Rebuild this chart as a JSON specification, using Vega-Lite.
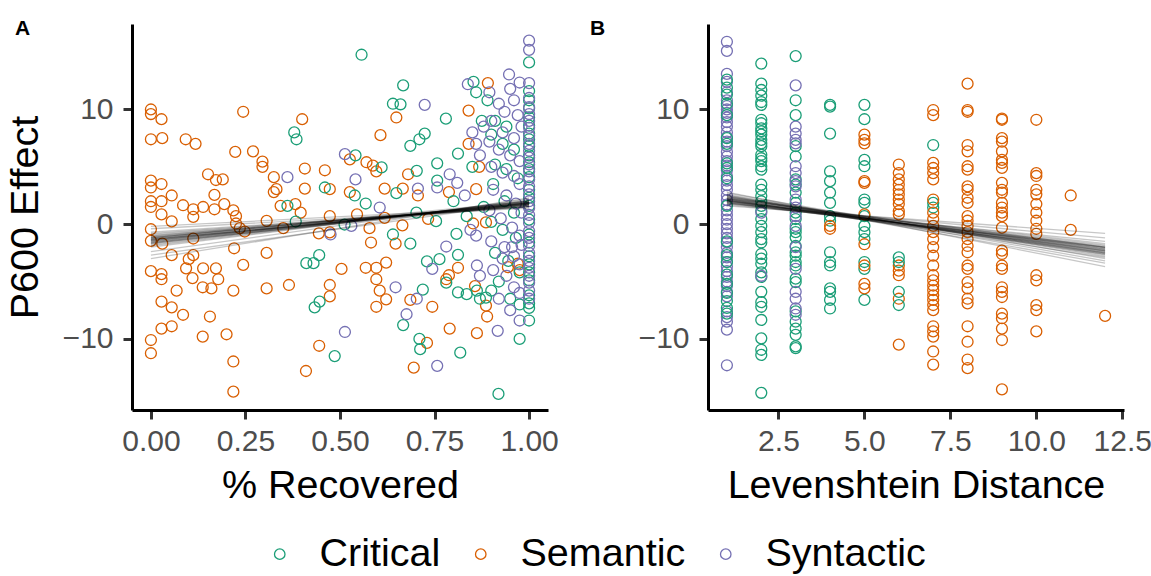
{
  "$schema": "https://vega.github.io/schema/vega-lite/v6.json",
  "padding": {"left": 5, "top": 18, "right": 0, "bottom": 0},
  "background": "white",
  "datasets": {
    "a": [
      {"x":0,"y":10.0,"g":"S"},{"x":0,"y":9.6,"g":"S"},{"x":0.028,"y":9.15,"g":"S"},{"x":0.244,"y":9.8,"g":"S"},{"x":0.40,"y":9.15,"g":"S"},{"x":0,"y":7.4,"g":"S"},{"x":0.03,"y":7.5,"g":"S"},{"x":0.092,"y":7.4,"g":"S"},{"x":0.118,"y":7.0,"g":"S"},{"x":0.223,"y":6.3,"g":"S"},{"x":0.27,"y":6.35,"g":"S"},{"x":0.295,"y":5.45,"g":"S"},{"x":0.295,"y":5.0,"g":"S"},{"x":0.325,"y":4.1,"g":"S"},{"x":0.407,"y":4.85,"g":"S"},{"x":0.46,"y":4.7,"g":"S"},{"x":0,"y":3.8,"g":"S"},{"x":0,"y":3.2,"g":"S"},{"x":0.028,"y":3.5,"g":"S"},{"x":0.151,"y":4.35,"g":"S"},{"x":0.172,"y":3.85,"g":"S"},{"x":0.19,"y":3.9,"g":"S"},{"x":0.055,"y":2.5,"g":"S"},{"x":0.168,"y":2.55,"g":"S"},{"x":0.332,"y":3.05,"g":"S"},{"x":0.325,"y":2.8,"g":"S"},{"x":0.407,"y":3.1,"g":"S"},{"x":0.473,"y":3.05,"g":"S"},{"x":0,"y":2.0,"g":"S"},{"x":0,"y":1.5,"g":"S"},{"x":0.028,"y":2.0,"g":"S"},{"x":0.085,"y":1.65,"g":"S"},{"x":0.112,"y":1.3,"g":"S"},{"x":0.138,"y":1.5,"g":"S"},{"x":0.168,"y":1.3,"g":"S"},{"x":0.194,"y":1.75,"g":"S"},{"x":0.218,"y":1.2,"g":"S"},{"x":0.343,"y":1.6,"g":"S"},{"x":0.382,"y":1.75,"g":"S"},{"x":0.396,"y":1.0,"g":"S"},{"x":0.028,"y":0.85,"g":"S"},{"x":0.112,"y":0.64,"g":"S"},{"x":0.225,"y":0.7,"g":"S"},{"x":0.055,"y":0.24,"g":"S"},{"x":0.306,"y":0.29,"g":"S"},{"x":0.473,"y":0.7,"g":"S"},{"x":0.225,"y":0.06,"g":"S"},{"x":0.235,"y":-0.35,"g":"S"},{"x":0.248,"y":-0.64,"g":"S"},{"x":0.35,"y":-0.35,"g":"S"},{"x":0,"y":-0.44,"g":"S"},{"x":0,"y":-1.45,"g":"S"},{"x":0.03,"y":-1.7,"g":"S"},{"x":0.112,"y":-1.25,"g":"S"},{"x":0.22,"y":-2.1,"g":"S"},{"x":0.055,"y":-2.7,"g":"S"},{"x":0.112,"y":-2.7,"g":"S"},{"x":0.1,"y":-3.05,"g":"S"},{"x":0.306,"y":-2.5,"g":"S"},{"x":0.244,"y":-3.55,"g":"S"},{"x":0.444,"y":-0.8,"g":"S"},{"x":0.473,"y":-0.72,"g":"S"},{"x":0,"y":-4.1,"g":"S"},{"x":0.028,"y":-4.35,"g":"S"},{"x":0.028,"y":-4.8,"g":"S"},{"x":0.093,"y":-3.85,"g":"S"},{"x":0.11,"y":-4.7,"g":"S"},{"x":0.138,"y":-3.85,"g":"S"},{"x":0.172,"y":-3.85,"g":"S"},{"x":0.178,"y":-4.8,"g":"S"},{"x":0.137,"y":-5.5,"g":"S"},{"x":0.16,"y":-5.6,"g":"S"},{"x":0.068,"y":-5.8,"g":"S"},{"x":0.218,"y":-5.8,"g":"S"},{"x":0.306,"y":-5.6,"g":"S"},{"x":0.365,"y":-5.3,"g":"S"},{"x":0.473,"y":-5.3,"g":"S"},{"x":0.028,"y":-6.75,"g":"S"},{"x":0.055,"y":-7.25,"g":"S"},{"x":0.085,"y":-7.9,"g":"S"},{"x":0.156,"y":-8.05,"g":"S"},{"x":0.473,"y":-6.3,"g":"S"},{"x":0.028,"y":-9.1,"g":"S"},{"x":0.055,"y":-8.9,"g":"S"},{"x":0,"y":-10.1,"g":"S"},{"x":0,"y":-11.25,"g":"S"},{"x":0.137,"y":-9.8,"g":"S"},{"x":0.2,"y":-9.6,"g":"S"},{"x":0.218,"y":-11.97,"g":"S"},{"x":0.218,"y":-14.6,"g":"S"},{"x":0.445,"y":-10.6,"g":"S"},{"x":0.41,"y":-12.8,"g":"S"},
      {"x":0.649,"y":9.3,"g":"S"},{"x":0.607,"y":7.76,"g":"S"},{"x":0.891,"y":12.3,"g":"S"},{"x":0.84,"y":9.9,"g":"S"},{"x":0.84,"y":7.0,"g":"S"},{"x":0.526,"y":5.65,"g":"S"},{"x":0.57,"y":5.4,"g":"S"},{"x":0.587,"y":5.1,"g":"S"},{"x":0.596,"y":4.6,"g":"S"},{"x":0.68,"y":4.35,"g":"S"},{"x":0.868,"y":5.0,"g":"S"},{"x":0.526,"y":2.8,"g":"S"},{"x":0.618,"y":3.1,"g":"S"},{"x":0.666,"y":3.1,"g":"S"},{"x":0.706,"y":2.5,"g":"S"},{"x":0.788,"y":2.8,"g":"S"},{"x":0.86,"y":3.05,"g":"S"},{"x":0.545,"y":0.85,"g":"S"},{"x":0.618,"y":0.55,"g":"S"},{"x":0.665,"y":-0.1,"g":"S"},{"x":0.578,"y":-0.35,"g":"S"},{"x":0.582,"y":-1.6,"g":"S"},{"x":0.647,"y":-1.7,"g":"S"},{"x":0.733,"y":0.46,"g":"S"},{"x":0.852,"y":0.06,"g":"S"},{"x":0.886,"y":0.15,"g":"S"},{"x":0.504,"y":-3.9,"g":"S"},{"x":0.568,"y":-3.8,"g":"S"},{"x":0.596,"y":-3.8,"g":"S"},{"x":0.622,"y":-3.35,"g":"S"},{"x":0.596,"y":-4.8,"g":"S"},{"x":0.605,"y":-5.8,"g":"S"},{"x":0.622,"y":-6.55,"g":"S"},{"x":0.596,"y":-7.2,"g":"S"},{"x":0.686,"y":-6.6,"g":"S"},{"x":0.744,"y":-7.2,"g":"S"},{"x":0.812,"y":-3.8,"g":"S"},{"x":0.788,"y":-4.45,"g":"S"},{"x":0.781,"y":-4.8,"g":"S"},{"x":0.857,"y":-5.4,"g":"S"},{"x":0.886,"y":-7.1,"g":"S"},{"x":0.889,"y":-8.05,"g":"S"},{"x":0.79,"y":-9.1,"g":"S"},{"x":0.862,"y":-9.5,"g":"S"},{"x":0.73,"y":-10.35,"g":"S"},{"x":0.695,"y":-12.5,"g":"S"},{"x":0.944,"y":-3.75,"g":"S"},{"x":0.97,"y":-3.45,"g":"S"},{"x":0.975,"y":-4.0,"g":"S"},
      {"x":0.379,"y":8.0,"g":"C"},{"x":0.385,"y":7.4,"g":"C"},{"x":0.46,"y":3.2,"g":"C"},{"x":0.361,"y":1.6,"g":"C"},{"x":0.383,"y":0.23,"g":"C"},{"x":0.411,"y":-3.4,"g":"C"},{"x":0.43,"y":-3.4,"g":"C"},{"x":0.445,"y":-2.7,"g":"C"},{"x":0.433,"y":-7.25,"g":"C"},{"x":0.446,"y":-6.75,"g":"C"},{"x":0.486,"y":-11.5,"g":"C"},
      {"x":0.557,"y":14.77,"g":"C"},{"x":0.667,"y":12.1,"g":"C"},{"x":0.64,"y":10.5,"g":"C"},{"x":0.66,"y":10.45,"g":"C"},{"x":0.78,"y":9.2,"g":"C"},{"x":0.686,"y":6.83,"g":"C"},{"x":0.71,"y":7.4,"g":"C"},{"x":0.724,"y":7.9,"g":"C"},{"x":0.853,"y":12.4,"g":"C"},{"x":0.812,"y":6.15,"g":"C"},{"x":0.541,"y":6.0,"g":"C"},{"x":0.61,"y":4.95,"g":"C"},{"x":0.703,"y":4.65,"g":"C"},{"x":0.757,"y":5.3,"g":"C"},{"x":0.539,"y":2.5,"g":"C"},{"x":0.649,"y":2.7,"g":"C"},{"x":0.757,"y":3.8,"g":"C"},{"x":0.8,"y":2.0,"g":"C"},{"x":0.568,"y":1.8,"g":"C"},{"x":0.512,"y":-0.03,"g":"C"},{"x":0.64,"y":-0.9,"g":"C"},{"x":0.686,"y":-1.7,"g":"C"},{"x":0.702,"y":1.0,"g":"C"},{"x":0.754,"y":0.26,"g":"C"},{"x":0.808,"y":-0.85,"g":"C"},{"x":0.835,"y":0.7,"g":"C"},{"x":0.719,"y":-5.7,"g":"C"},{"x":0.667,"y":-8.8,"g":"C"},{"x":0.73,"y":-3.25,"g":"C"},{"x":0.763,"y":-3.05,"g":"C"},{"x":0.812,"y":-2.67,"g":"C"},{"x":0.781,"y":-5.1,"g":"C"},{"x":0.812,"y":-5.95,"g":"C"},{"x":0.835,"y":-6.1,"g":"C"},{"x":0.862,"y":-5.8,"g":"C"},{"x":0.886,"y":-6.4,"g":"C"},{"x":0.71,"y":-10.0,"g":"C"},{"x":0.712,"y":-10.9,"g":"C"},{"x":0.818,"y":-11.2,"g":"C"},{"x":0.919,"y":-14.8,"g":"C"},{"x":0.975,"y":-10.0,"g":"C"},{"x":1.0,"y":-8.4,"g":"C"},
      {"x":0.89,"y":10.8,"g":"C"},{"x":0.91,"y":9.0,"g":"C"},{"x":0.94,"y":8.5,"g":"C"},{"x":0.9,"y":7.8,"g":"C"},{"x":0.93,"y":7.0,"g":"C"},{"x":0.96,"y":6.5,"g":"C"},{"x":0.91,"y":5.2,"g":"C"},{"x":0.94,"y":4.8,"g":"C"},{"x":0.97,"y":4.0,"g":"C"},{"x":0.905,"y":3.5,"g":"C"},{"x":0.935,"y":2.0,"g":"C"},{"x":0.96,"y":1.0,"g":"C"},{"x":0.9,"y":0.2,"g":"C"},{"x":0.93,"y":-0.5,"g":"C"},{"x":0.965,"y":-1.2,"g":"C"},{"x":0.91,"y":-2.5,"g":"C"},{"x":0.945,"y":-3.2,"g":"C"},{"x":0.975,"y":-4.2,"g":"C"},{"x":0.92,"y":-5.0,"g":"C"},{"x":0.95,"y":-6.5,"g":"C"},{"x":0.975,"y":-7.0,"g":"C"},{"x":0.9,"y":-5.8,"g":"C"},{"x":0.87,"y":-6.5,"g":"C"},{"x":0.88,"y":1.5,"g":"C"},{"x":0.86,"y":11.5,"g":"C"},{"x":0.875,"y":9.0,"g":"C"},{"x":0.85,"y":5.0,"g":"C"},
      {"x":1,"y":14.1,"g":"C"},{"x":1,"y":11.6,"g":"C"},{"x":1,"y":10.8,"g":"C"},{"x":1,"y":10.1,"g":"C"},{"x":1,"y":9.3,"g":"C"},{"x":1,"y":8.6,"g":"C"},{"x":1,"y":7.9,"g":"C"},{"x":1,"y":7.4,"g":"C"},{"x":1,"y":6.8,"g":"C"},{"x":1,"y":6.0,"g":"C"},{"x":1,"y":5.4,"g":"C"},{"x":1,"y":4.8,"g":"C"},{"x":1,"y":4.1,"g":"C"},{"x":1,"y":3.0,"g":"C"},{"x":1,"y":2.3,"g":"C"},{"x":1,"y":1.6,"g":"C"},{"x":1,"y":0.4,"g":"C"},{"x":1,"y":-0.9,"g":"C"},{"x":1,"y":-1.6,"g":"C"},{"x":1,"y":-2.8,"g":"C"},{"x":1,"y":-3.5,"g":"C"},{"x":1,"y":-4.2,"g":"C"},{"x":1,"y":-4.9,"g":"C"},{"x":1,"y":-6.2,"g":"C"},{"x":1,"y":-6.9,"g":"C"},{"x":1,"y":-7.3,"g":"C"},
      {"x":0.361,"y":4.1,"g":"Y"},{"x":0.513,"y":6.1,"g":"Y"},{"x":0.513,"y":-9.4,"g":"Y"},{"x":0.475,"y":-0.9,"g":"Y"},{"x":0.724,"y":10.4,"g":"Y"},{"x":0.838,"y":12.2,"g":"Y"},{"x":0.947,"y":13.05,"g":"Y"},{"x":0.975,"y":12.35,"g":"Y"},{"x":0.79,"y":4.35,"g":"Y"},{"x":0.541,"y":3.9,"g":"Y"},{"x":0.706,"y":3.1,"g":"Y"},{"x":0.757,"y":3.2,"g":"Y"},{"x":0.81,"y":3.6,"g":"Y"},{"x":0.605,"y":1.45,"g":"Y"},{"x":0.53,"y":-0.15,"g":"Y"},{"x":0.647,"y":-5.5,"g":"Y"},{"x":0.703,"y":-6.5,"g":"Y"},{"x":0.676,"y":-7.85,"g":"Y"},{"x":0.744,"y":-3.9,"g":"Y"},{"x":0.781,"y":-1.95,"g":"Y"},{"x":0.862,"y":-3.6,"g":"Y"},{"x":0.757,"y":-12.35,"g":"Y"},{"x":0.917,"y":-9.3,"g":"Y"},{"x":0.975,"y":-8.4,"g":"Y"},
      {"x":0.895,"y":11.5,"g":"Y"},{"x":0.92,"y":10.5,"g":"Y"},{"x":0.935,"y":9.8,"g":"Y"},{"x":0.95,"y":11.8,"g":"Y"},{"x":0.96,"y":10.8,"g":"Y"},{"x":0.97,"y":9.5,"g":"Y"},{"x":0.9,"y":9.0,"g":"Y"},{"x":0.93,"y":8.0,"g":"Y"},{"x":0.96,"y":7.5,"g":"Y"},{"x":0.895,"y":7.2,"g":"Y"},{"x":0.92,"y":6.5,"g":"Y"},{"x":0.95,"y":6.0,"g":"Y"},{"x":0.975,"y":5.5,"g":"Y"},{"x":0.9,"y":5.0,"g":"Y"},{"x":0.93,"y":4.5,"g":"Y"},{"x":0.96,"y":4.2,"g":"Y"},{"x":0.975,"y":3.5,"g":"Y"},{"x":0.905,"y":3.0,"g":"Y"},{"x":0.94,"y":2.5,"g":"Y"},{"x":0.965,"y":1.8,"g":"Y"},{"x":0.895,"y":1.2,"g":"Y"},{"x":0.925,"y":0.5,"g":"Y"},{"x":0.955,"y":-0.3,"g":"Y"},{"x":0.975,"y":-1.0,"g":"Y"},{"x":0.9,"y":-1.5,"g":"Y"},{"x":0.935,"y":-2.0,"g":"Y"},{"x":0.96,"y":-2.8,"g":"Y"},{"x":0.975,"y":-3.5,"g":"Y"},{"x":0.905,"y":-4.0,"g":"Y"},{"x":0.94,"y":-4.5,"g":"Y"},{"x":0.96,"y":-5.5,"g":"Y"},{"x":0.975,"y":-6.0,"g":"Y"},{"x":0.92,"y":-6.5,"g":"Y"},{"x":0.95,"y":-7.5,"g":"Y"},{"x":0.955,"y":-2.0,"g":"Y"},{"x":0.93,"y":-3.0,"g":"Y"},{"x":0.98,"y":8.5,"g":"Y"},{"x":0.98,"y":1.0,"g":"Y"},{"x":0.98,"y":-1.8,"g":"Y"},{"x":0.87,"y":6.0,"g":"Y"},{"x":0.86,"y":-1.0,"g":"Y"},{"x":0.845,"y":-0.5,"g":"Y"},{"x":0.83,"y":2.5,"g":"Y"},{"x":0.85,"y":8.0,"g":"Y"},{"x":0.88,"y":8.5,"g":"Y"},{"x":0.87,"y":-4.5,"g":"Y"},{"x":0.86,"y":7.0,"g":"Y"},
      {"x":1,"y":16.0,"g":"Y"},{"x":1,"y":15.2,"g":"Y"},{"x":1,"y":12.3,"g":"Y"},{"x":1,"y":11.0,"g":"Y"},{"x":1,"y":10.2,"g":"Y"},{"x":1,"y":9.6,"g":"Y"},{"x":1,"y":9.0,"g":"Y"},{"x":1,"y":8.4,"g":"Y"},{"x":1,"y":7.7,"g":"Y"},{"x":1,"y":7.0,"g":"Y"},{"x":1,"y":6.4,"g":"Y"},{"x":1,"y":5.8,"g":"Y"},{"x":1,"y":5.2,"g":"Y"},{"x":1,"y":4.6,"g":"Y"},{"x":1,"y":3.9,"g":"Y"},{"x":1,"y":3.3,"g":"Y"},{"x":1,"y":2.6,"g":"Y"},{"x":1,"y":2.0,"g":"Y"},{"x":1,"y":1.4,"g":"Y"},{"x":1,"y":0.8,"g":"Y"},{"x":1,"y":0.1,"g":"Y"},{"x":1,"y":-0.6,"g":"Y"},{"x":1,"y":-1.2,"g":"Y"},{"x":1,"y":-1.9,"g":"Y"},{"x":1,"y":-2.5,"g":"Y"},{"x":1,"y":-3.2,"g":"Y"},{"x":1,"y":-3.8,"g":"Y"},{"x":1,"y":-4.5,"g":"Y"},{"x":1,"y":-5.1,"g":"Y"},{"x":1,"y":-5.8,"g":"Y"},{"x":1,"y":-6.5,"g":"Y"}
    ],
    "b": [
      {"x":1,"y":15.9,"g":"Y"},{"x":1,"y":15.1,"g":"Y"},{"x":1,"y":13.1,"g":"Y"},{"x":1,"y":12.4,"g":"Y"},{"x":1,"y":11.5,"g":"Y"},{"x":1,"y":10.8,"g":"Y"},{"x":1,"y":10.3,"g":"Y"},{"x":1,"y":10.0,"g":"Y"},{"x":1,"y":9.7,"g":"Y"},{"x":1,"y":9.3,"g":"Y"},{"x":1,"y":8.9,"g":"Y"},{"x":1,"y":8.5,"g":"Y"},{"x":1,"y":8.0,"g":"Y"},{"x":1,"y":7.6,"g":"Y"},{"x":1,"y":7.2,"g":"Y"},{"x":1,"y":6.8,"g":"Y"},{"x":1,"y":6.3,"g":"Y"},{"x":1,"y":5.9,"g":"Y"},{"x":1,"y":5.5,"g":"Y"},{"x":1,"y":5.1,"g":"Y"},{"x":1,"y":4.7,"g":"Y"},{"x":1,"y":4.2,"g":"Y"},{"x":1,"y":3.8,"g":"Y"},{"x":1,"y":3.4,"g":"Y"},{"x":1,"y":3.0,"g":"Y"},{"x":1,"y":2.5,"g":"Y"},{"x":1,"y":2.1,"g":"Y"},{"x":1,"y":1.7,"g":"Y"},{"x":1,"y":1.2,"g":"Y"},{"x":1,"y":0.8,"g":"Y"},{"x":1,"y":0.4,"g":"Y"},{"x":1,"y":0.0,"g":"Y"},{"x":1,"y":-0.4,"g":"Y"},{"x":1,"y":-0.8,"g":"Y"},{"x":1,"y":-1.2,"g":"Y"},{"x":1,"y":-1.6,"g":"Y"},{"x":1,"y":-2.0,"g":"Y"},{"x":1,"y":-2.5,"g":"Y"},{"x":1,"y":-2.9,"g":"Y"},{"x":1,"y":-3.3,"g":"Y"},{"x":1,"y":-3.7,"g":"Y"},{"x":1,"y":-4.1,"g":"Y"},{"x":1,"y":-4.6,"g":"Y"},{"x":1,"y":-5.0,"g":"Y"},{"x":1,"y":-5.4,"g":"Y"},{"x":1,"y":-5.9,"g":"Y"},{"x":1,"y":-6.3,"g":"Y"},{"x":1,"y":-7.6,"g":"Y"},{"x":1,"y":-8.1,"g":"Y"},{"x":1,"y":-8.5,"g":"Y"},{"x":1,"y":-9.2,"g":"Y"},{"x":1,"y":-12.3,"g":"Y"},
      {"x":1,"y":12.6,"g":"C"},{"x":1,"y":11.9,"g":"C"},{"x":1,"y":11.3,"g":"C"},{"x":1,"y":10.5,"g":"C"},{"x":1,"y":9.5,"g":"C"},{"x":1,"y":7.5,"g":"C"},{"x":1,"y":7.0,"g":"C"},{"x":1,"y":5.3,"g":"C"},{"x":1,"y":4.9,"g":"C"},{"x":1,"y":4.0,"g":"C"},{"x":1,"y":1.6,"g":"C"},{"x":1,"y":-1.5,"g":"C"},{"x":1,"y":-2.7,"g":"C"},{"x":1,"y":-3.3,"g":"C"},{"x":1,"y":-4.4,"g":"C"},{"x":1,"y":-5.2,"g":"C"},{"x":1,"y":-6.0,"g":"C"},{"x":1,"y":-6.7,"g":"C"},{"x":1,"y":-7.3,"g":"C"},{"x":1,"y":-7.8,"g":"C"},
      {"x":2,"y":14.0,"g":"C"},{"x":2,"y":12.25,"g":"C"},{"x":2,"y":11.7,"g":"C"},{"x":2,"y":11.2,"g":"C"},{"x":2,"y":10.65,"g":"C"},{"x":2,"y":10.4,"g":"C"},{"x":2,"y":9.1,"g":"C"},{"x":2,"y":8.8,"g":"C"},{"x":2,"y":8.35,"g":"C"},{"x":2,"y":8.1,"g":"C"},{"x":2,"y":7.8,"g":"C"},{"x":2,"y":7.35,"g":"C"},{"x":2,"y":7.05,"g":"C"},{"x":2,"y":6.8,"g":"C"},{"x":2,"y":6.05,"g":"C"},{"x":2,"y":5.75,"g":"C"},{"x":2,"y":5.5,"g":"C"},{"x":2,"y":5.05,"g":"C"},{"x":2,"y":4.75,"g":"C"},{"x":2,"y":3.45,"g":"C"},{"x":2,"y":3.0,"g":"C"},{"x":2,"y":2.45,"g":"C"},{"x":2,"y":2.0,"g":"C"},{"x":2,"y":1.6,"g":"C"},{"x":2,"y":1.15,"g":"C"},{"x":2,"y":0.45,"g":"C"},{"x":2,"y":-0.15,"g":"C"},{"x":2,"y":-0.7,"g":"C"},{"x":2,"y":-1.3,"g":"C"},{"x":2,"y":-1.6,"g":"C"},{"x":2,"y":-2.6,"g":"C"},{"x":2,"y":-3.0,"g":"C"},{"x":2,"y":-3.45,"g":"C"},{"x":2,"y":-4.2,"g":"C"},{"x":2,"y":-4.6,"g":"C"},{"x":2,"y":-5.9,"g":"C"},{"x":2,"y":-6.8,"g":"C"},{"x":2,"y":-7.2,"g":"C"},{"x":2,"y":-8.35,"g":"C"},{"x":2,"y":-9.95,"g":"C"},{"x":2,"y":-10.95,"g":"C"},{"x":2,"y":-11.4,"g":"C"},{"x":2,"y":-14.7,"g":"C"},{"x":2,"y":-4.5,"g":"Y"},{"x":2,"y":1.0,"g":"Y"},
      {"x":3,"y":14.65,"g":"C"},{"x":3,"y":10.8,"g":"C"},{"x":3,"y":9.5,"g":"C"},{"x":3,"y":6.8,"g":"C"},{"x":3,"y":5.9,"g":"C"},{"x":3,"y":3.9,"g":"C"},{"x":3,"y":3.45,"g":"C"},{"x":3,"y":2.75,"g":"C"},{"x":3,"y":1.85,"g":"C"},{"x":3,"y":1.0,"g":"C"},{"x":3,"y":0.45,"g":"C"},{"x":3,"y":-0.4,"g":"C"},{"x":3,"y":-0.7,"g":"C"},{"x":3,"y":-1.15,"g":"C"},{"x":3,"y":-1.9,"g":"C"},{"x":3,"y":-2.45,"g":"C"},{"x":3,"y":-2.75,"g":"C"},{"x":3,"y":-3.3,"g":"C"},{"x":3,"y":-3.6,"g":"C"},{"x":3,"y":-4.75,"g":"C"},{"x":3,"y":-5.05,"g":"C"},{"x":3,"y":-7.6,"g":"C"},{"x":3,"y":-8.5,"g":"C"},{"x":3,"y":-9.1,"g":"C"},{"x":3,"y":-9.65,"g":"C"},{"x":3,"y":-10.65,"g":"C"},{"x":3,"y":-10.8,"g":"C"},
      {"x":3,"y":12.1,"g":"Y"},{"x":3,"y":8.5,"g":"Y"},{"x":3,"y":7.9,"g":"Y"},{"x":3,"y":7.35,"g":"Y"},{"x":3,"y":7.05,"g":"Y"},{"x":3,"y":5.05,"g":"Y"},{"x":3,"y":4.45,"g":"Y"},{"x":3,"y":3.75,"g":"Y"},{"x":3,"y":3.3,"g":"Y"},{"x":3,"y":2.15,"g":"Y"},{"x":3,"y":1.45,"g":"Y"},{"x":3,"y":0.7,"g":"Y"},{"x":3,"y":-0.15,"g":"Y"},{"x":3,"y":-2.0,"g":"Y"},{"x":3,"y":-3.9,"g":"Y"},{"x":3,"y":-5.9,"g":"Y"},{"x":3,"y":-6.5,"g":"Y"},{"x":3,"y":-7.35,"g":"Y"},{"x":3,"y":-7.9,"g":"Y"},
      {"x":4,"y":10.4,"g":"C"},{"x":4,"y":10.25,"g":"C"},{"x":4,"y":7.9,"g":"C"},{"x":4,"y":4.6,"g":"C"},{"x":4,"y":3.75,"g":"C"},{"x":4,"y":2.75,"g":"C"},{"x":4,"y":1.85,"g":"C"},{"x":4,"y":0.7,"g":"C"},{"x":4,"y":0.3,"g":"C"},{"x":4,"y":-2.45,"g":"C"},{"x":4,"y":-3.3,"g":"C"},{"x":4,"y":-3.6,"g":"C"},{"x":4,"y":-5.6,"g":"C"},{"x":4,"y":-5.9,"g":"C"},{"x":4,"y":-6.6,"g":"C"},{"x":4,"y":-7.35,"g":"C"},{"x":4,"y":-0.15,"g":"S"},{"x":4,"y":-0.4,"g":"S"},
      {"x":5,"y":10.4,"g":"C"},{"x":5,"y":9.15,"g":"C"},{"x":5,"y":5.6,"g":"C"},{"x":5,"y":5.05,"g":"C"},{"x":5,"y":2.15,"g":"C"},{"x":5,"y":1.85,"g":"C"},{"x":5,"y":0.7,"g":"C"},{"x":5,"y":-0.15,"g":"C"},{"x":5,"y":-0.7,"g":"C"},{"x":5,"y":-1.3,"g":"C"},{"x":5,"y":-3.3,"g":"C"},{"x":5,"y":-3.9,"g":"C"},{"x":5,"y":-6.6,"g":"C"},{"x":5,"y":7.8,"g":"S"},{"x":5,"y":7.35,"g":"S"},{"x":5,"y":7.05,"g":"S"},{"x":5,"y":3.75,"g":"S"},{"x":5,"y":3.6,"g":"S"},{"x":5,"y":0.85,"g":"S"},{"x":5,"y":-1.75,"g":"S"},{"x":5,"y":-3.6,"g":"S"},{"x":5,"y":-5.2,"g":"S"},{"x":5,"y":-5.6,"g":"S"},
      {"x":6,"y":5.2,"g":"S"},{"x":6,"y":4.45,"g":"S"},{"x":6,"y":3.9,"g":"S"},{"x":6,"y":3.45,"g":"S"},{"x":6,"y":3.0,"g":"S"},{"x":6,"y":2.6,"g":"S"},{"x":6,"y":2.15,"g":"S"},{"x":6,"y":1.75,"g":"S"},{"x":6,"y":1.15,"g":"S"},{"x":6,"y":0.85,"g":"S"},{"x":6,"y":-3.6,"g":"S"},{"x":6,"y":-4.05,"g":"S"},{"x":6,"y":-4.45,"g":"S"},{"x":6,"y":-6.5,"g":"S"},{"x":6,"y":-10.5,"g":"S"},{"x":6,"y":-2.9,"g":"C"},{"x":6,"y":-3.3,"g":"C"},{"x":6,"y":-5.9,"g":"C"},{"x":6,"y":-7.05,"g":"C"},
      {"x":7,"y":6.9,"g":"C"},{"x":7,"y":1.85,"g":"C"},{"x":7,"y":1.45,"g":"C"},{"x":7,"y":9.95,"g":"S"},{"x":7,"y":9.5,"g":"S"},{"x":7,"y":5.35,"g":"S"},{"x":7,"y":4.9,"g":"S"},{"x":7,"y":4.45,"g":"S"},{"x":7,"y":3.9,"g":"S"},{"x":7,"y":2.15,"g":"S"},{"x":7,"y":1.0,"g":"S"},{"x":7,"y":0.45,"g":"S"},{"x":7,"y":-0.15,"g":"S"},{"x":7,"y":-0.7,"g":"S"},{"x":7,"y":-1.3,"g":"S"},{"x":7,"y":-2.0,"g":"S"},{"x":7,"y":-2.75,"g":"S"},{"x":7,"y":-3.6,"g":"S"},{"x":7,"y":-4.45,"g":"S"},{"x":7,"y":-4.9,"g":"S"},{"x":7,"y":-5.35,"g":"S"},{"x":7,"y":-5.75,"g":"S"},{"x":7,"y":-6.2,"g":"S"},{"x":7,"y":-6.6,"g":"S"},{"x":7,"y":-7.05,"g":"S"},{"x":7,"y":-7.5,"g":"S"},{"x":7,"y":-8.9,"g":"S"},{"x":7,"y":-9.35,"g":"S"},{"x":7,"y":-9.8,"g":"S"},{"x":7,"y":-11.1,"g":"S"},{"x":7,"y":-12.25,"g":"S"},
      {"x":8,"y":12.25,"g":"S"},{"x":8,"y":9.95,"g":"S"},{"x":8,"y":9.8,"g":"S"},{"x":8,"y":6.9,"g":"S"},{"x":8,"y":6.35,"g":"S"},{"x":8,"y":5.05,"g":"S"},{"x":8,"y":4.75,"g":"S"},{"x":8,"y":3.3,"g":"S"},{"x":8,"y":3.0,"g":"S"},{"x":8,"y":2.3,"g":"S"},{"x":8,"y":1.85,"g":"S"},{"x":8,"y":0.7,"g":"S"},{"x":8,"y":0.3,"g":"S"},{"x":8,"y":-0.15,"g":"S"},{"x":8,"y":-0.7,"g":"S"},{"x":8,"y":-1.3,"g":"S"},{"x":8,"y":-1.9,"g":"S"},{"x":8,"y":-2.45,"g":"S"},{"x":8,"y":-3.6,"g":"S"},{"x":8,"y":-3.9,"g":"S"},{"x":8,"y":-5.05,"g":"S"},{"x":8,"y":-5.6,"g":"S"},{"x":8,"y":-6.5,"g":"S"},{"x":8,"y":-6.9,"g":"S"},{"x":8,"y":-8.9,"g":"S"},{"x":8,"y":-10.25,"g":"S"},{"x":8,"y":-11.8,"g":"S"},{"x":8,"y":-12.55,"g":"S"},
      {"x":9,"y":9.2,"g":"S"},{"x":9,"y":9.1,"g":"S"},{"x":9,"y":7.5,"g":"S"},{"x":9,"y":7.2,"g":"S"},{"x":9,"y":6.35,"g":"S"},{"x":9,"y":5.6,"g":"S"},{"x":9,"y":5.35,"g":"S"},{"x":9,"y":4.9,"g":"S"},{"x":9,"y":3.6,"g":"S"},{"x":9,"y":3.0,"g":"S"},{"x":9,"y":2.75,"g":"S"},{"x":9,"y":1.85,"g":"S"},{"x":9,"y":1.45,"g":"S"},{"x":9,"y":1.0,"g":"S"},{"x":9,"y":0.7,"g":"S"},{"x":9,"y":-0.3,"g":"S"},{"x":9,"y":-2.3,"g":"S"},{"x":9,"y":-2.6,"g":"S"},{"x":9,"y":-3.6,"g":"S"},{"x":9,"y":-3.9,"g":"S"},{"x":9,"y":-5.5,"g":"S"},{"x":9,"y":-5.9,"g":"S"},{"x":9,"y":-6.35,"g":"S"},{"x":9,"y":-7.8,"g":"S"},{"x":9,"y":-8.2,"g":"S"},{"x":9,"y":-9.1,"g":"S"},{"x":9,"y":-10.1,"g":"S"},{"x":9,"y":-14.4,"g":"S"},
      {"x":10,"y":9.1,"g":"S"},{"x":10,"y":4.45,"g":"S"},{"x":10,"y":4.2,"g":"S"},{"x":10,"y":3.0,"g":"S"},{"x":10,"y":2.6,"g":"S"},{"x":10,"y":1.75,"g":"S"},{"x":10,"y":1.0,"g":"S"},{"x":10,"y":0.3,"g":"S"},{"x":10,"y":-0.4,"g":"S"},{"x":10,"y":-0.85,"g":"S"},{"x":10,"y":-4.45,"g":"S"},{"x":10,"y":-4.9,"g":"S"},{"x":10,"y":-7.05,"g":"S"},{"x":10,"y":-7.5,"g":"S"},{"x":10,"y":-9.35,"g":"S"},
      {"x":11,"y":2.5,"g":"S"},{"x":11,"y":-0.5,"g":"S"},{"x":12,"y":-8.0,"g":"S"}
    ],
    "la": [
      {"id":1,"x":0,"y":-1.3},{"id":1,"x":1,"y":1.8},{"id":2,"x":0,"y":-1.5},{"id":2,"x":1,"y":1.9},{"id":3,"x":0,"y":-1.1},{"id":3,"x":1,"y":1.7},{"id":4,"x":0,"y":-1.7},{"id":4,"x":1,"y":2.0},{"id":5,"x":0,"y":-0.9},{"id":5,"x":1,"y":1.6},{"id":6,"x":0,"y":-1.4},{"id":6,"x":1,"y":1.75},{"id":7,"x":0,"y":-1.2},{"id":7,"x":1,"y":1.85},{"id":8,"x":0,"y":-2.0},{"id":8,"x":1,"y":2.1},{"id":9,"x":0,"y":-0.7},{"id":9,"x":1,"y":1.5},{"id":10,"x":0,"y":-1.6},{"id":10,"x":1,"y":1.95},{"id":11,"x":0,"y":-1.0},{"id":11,"x":1,"y":1.65},{"id":12,"x":0,"y":-1.35},{"id":12,"x":1,"y":1.8},{"id":13,"x":0,"y":-2.4},{"id":13,"x":1,"y":2.2},{"id":14,"x":0,"y":-0.4},{"id":14,"x":1,"y":1.4},{"id":15,"x":0,"y":-1.8},{"id":15,"x":1,"y":2.0},{"id":16,"x":0,"y":-1.25},{"id":16,"x":1,"y":1.7},{"id":17,"x":0,"y":-1.45},{"id":17,"x":1,"y":1.9},{"id":18,"x":0,"y":-3.0},{"id":18,"x":1,"y":2.3},{"id":19,"x":0,"y":-1.15},{"id":19,"x":1,"y":1.75},{"id":20,"x":0,"y":-1.55},{"id":20,"x":1,"y":1.85},{"id":21,"x":0,"y":-0.8},{"id":21,"x":1,"y":1.55},{"id":22,"x":0,"y":-1.9},{"id":22,"x":1,"y":2.05},{"id":23,"x":0,"y":-2.7},{"id":23,"x":1,"y":1.9},{"id":24,"x":0,"y":-1.05},{"id":24,"x":1,"y":1.8},{"id":25,"x":0,"y":-1.6},{"id":25,"x":1,"y":1.7},{"id":26,"x":0,"y":-1.3},{"id":26,"x":1,"y":1.6},{"id":27,"x":0,"y":-1.2},{"id":27,"x":1,"y":2.0},{"id":28,"x":0,"y":-0.2},{"id":28,"x":1,"y":1.5},{"id":29,"x":0,"y":-1.4},{"id":29,"x":1,"y":1.8},{"id":30,"x":0,"y":-1.7},{"id":30,"x":1,"y":1.9}
    ],
    "lb": [
      {"id":1,"x":1,"y":2.1},{"id":1,"x":12,"y":-2.2},{"id":2,"x":1,"y":2.3},{"id":2,"x":12,"y":-2.5},{"id":3,"x":1,"y":1.9},{"id":3,"x":12,"y":-2.0},{"id":4,"x":1,"y":2.5},{"id":4,"x":12,"y":-2.8},{"id":5,"x":1,"y":2.0},{"id":5,"x":12,"y":-1.7},{"id":6,"x":1,"y":2.2},{"id":6,"x":12,"y":-2.4},{"id":7,"x":1,"y":1.8},{"id":7,"x":12,"y":-1.9},{"id":8,"x":1,"y":2.6},{"id":8,"x":12,"y":-3.2},{"id":9,"x":1,"y":2.1},{"id":9,"x":12,"y":-2.6},{"id":10,"x":1,"y":1.7},{"id":10,"x":12,"y":-1.5},{"id":11,"x":1,"y":2.4},{"id":11,"x":12,"y":-2.3},{"id":12,"x":1,"y":2.0},{"id":12,"x":12,"y":-2.1},{"id":13,"x":1,"y":2.8},{"id":13,"x":12,"y":-3.7},{"id":14,"x":1,"y":1.6},{"id":14,"x":12,"y":-0.8},{"id":15,"x":1,"y":2.2},{"id":15,"x":12,"y":-2.9},{"id":16,"x":1,"y":1.9},{"id":16,"x":12,"y":-2.3},{"id":17,"x":1,"y":2.3},{"id":17,"x":12,"y":-2.0},{"id":18,"x":1,"y":2.7},{"id":18,"x":12,"y":-3.0},{"id":19,"x":1,"y":1.8},{"id":19,"x":12,"y":-1.2},{"id":20,"x":1,"y":2.1},{"id":20,"x":12,"y":-2.45},{"id":21,"x":1,"y":2.4},{"id":21,"x":12,"y":-2.7},{"id":22,"x":1,"y":2.0},{"id":22,"x":12,"y":-2.5},{"id":23,"x":1,"y":1.95},{"id":23,"x":12,"y":-1.8},{"id":24,"x":1,"y":2.25},{"id":24,"x":12,"y":-2.15},{"id":25,"x":1,"y":2.5},{"id":25,"x":12,"y":-3.4},{"id":26,"x":1,"y":2.15},{"id":26,"x":12,"y":-2.35},{"id":27,"x":1,"y":1.85},{"id":27,"x":12,"y":-2.05},{"id":28,"x":1,"y":2.35},{"id":28,"x":12,"y":-2.6},{"id":29,"x":1,"y":2.05},{"id":29,"x":12,"y":-2.25},{"id":30,"x":1,"y":2.2},{"id":30,"x":12,"y":-2.0}
    ]
  },
  "spacing": 31,
  "hconcat": [
    {
      "width": 416, "height": 386,
      "title": {"text": "A", "anchor": "start", "frame": "group", "dx": -117, "offset": -32, "baseline": "alphabetic"},
      "layer": [
        {
          "data": {"name": "a"},
          "mark": {"type": "point", "shape": "circle", "filled": false, "size": 120, "strokeWidth": 1.3, "opacity": 1},
          "encoding": {
            "x": {"field": "x", "type": "quantitative", "scale": {"domain": [-0.05, 1.05], "nice": false, "zero": false}, "axis": {"title": "% Recovered", "values": [0, 0.25, 0.5, 0.75, 1], "format": ".2f", "labelPadding": 7}},
            "y": {"field": "y", "type": "quantitative", "scale": {"domain": [-16.2, 17.45], "nice": false, "zero": false}, "axis": {"title": "P600 Effect", "values": [-10, 0, 10], "labelPadding": 10, "titlePadding": 17}},
            "color": {"field": "g", "type": "nominal", "scale": {"domain": ["C", "S", "Y"], "range": ["#1b9e77", "#d95f02", "#7570b3"]}, "legend": {"title": null, "labelExpr": "datum.label == 'C' ? 'Critical' : datum.label == 'S' ? 'Semantic' : 'Syntactic'"}}
          }
        },
        {
          "data": {"name": "la"},
          "mark": {"type": "line", "color": "black", "opacity": 0.22, "strokeWidth": 1.3},
          "encoding": {
            "x": {"field": "x", "type": "quantitative"},
            "y": {"field": "y", "type": "quantitative"},
            "detail": {"field": "id", "type": "nominal"}
          }
        }
      ]
    },
    {
      "width": 416, "height": 386,
      "title": {"text": "B", "anchor": "start", "frame": "group", "dx": -118, "offset": -32, "baseline": "alphabetic"},
      "layer": [
        {
          "data": {"name": "b"},
          "mark": {"type": "point", "shape": "circle", "filled": false, "size": 120, "strokeWidth": 1.3, "opacity": 1},
          "encoding": {
            "x": {"field": "x", "type": "quantitative", "scale": {"domain": [0.45, 12.55], "nice": false, "zero": false}, "axis": {"title": "Levenshtein Distance", "values": [2.5, 5, 7.5, 10, 12.5], "format": ".1f", "labelPadding": 7}},
            "y": {"field": "y", "type": "quantitative", "scale": {"domain": [-16.2, 17.45], "nice": false, "zero": false}, "axis": {"title": null, "values": [-10, 0, 10], "labelPadding": 10}},
            "color": {"field": "g", "type": "nominal", "scale": {"domain": ["C", "S", "Y"], "range": ["#1b9e77", "#d95f02", "#7570b3"]}, "legend": {"title": null, "labelExpr": "datum.label == 'C' ? 'Critical' : datum.label == 'S' ? 'Semantic' : 'Syntactic'"}}
          }
        },
        {
          "data": {"name": "lb"},
          "mark": {"type": "line", "color": "black", "opacity": 0.22, "strokeWidth": 1.3},
          "encoding": {
            "x": {"field": "x", "type": "quantitative"},
            "y": {"field": "y", "type": "quantitative"},
            "detail": {"field": "id", "type": "nominal"}
          }
        }
      ]
    }
  ],
  "config": {
    "font": "Liberation Sans",
    "view": {"stroke": null},
    "axis": {
      "grid": false, "domainColor": "#000", "domainWidth": 3, "tickColor": "#333333", "tickWidth": 3, "tickSize": 9,
      "labelFont": "Liberation Sans", "labelFontSize": 30, "labelColor": "#4d4d4d",
      "titleFont": "Liberation Sans", "titleFontSize": 39.5, "titleFontWeight": "normal", "titleColor": "#000", "titlePadding": 10
    },
    "legend": {
      "orient": "none", "legendX": 128, "legendY": 510, "direction": "horizontal", "symbolType": "circle", "symbolSize": 110, "symbolStrokeWidth": 1.3,
      "labelFont": "Liberation Sans", "labelFontSize": 39.5, "labelColor": "#000", "labelOffset": 20, "labelLimit": 400, "columnPadding": 20, "padding": 0
    },
    "title": {"font": "Liberation Sans", "fontSize": 21, "fontWeight": "bold", "color": "#000"}
  }
}
